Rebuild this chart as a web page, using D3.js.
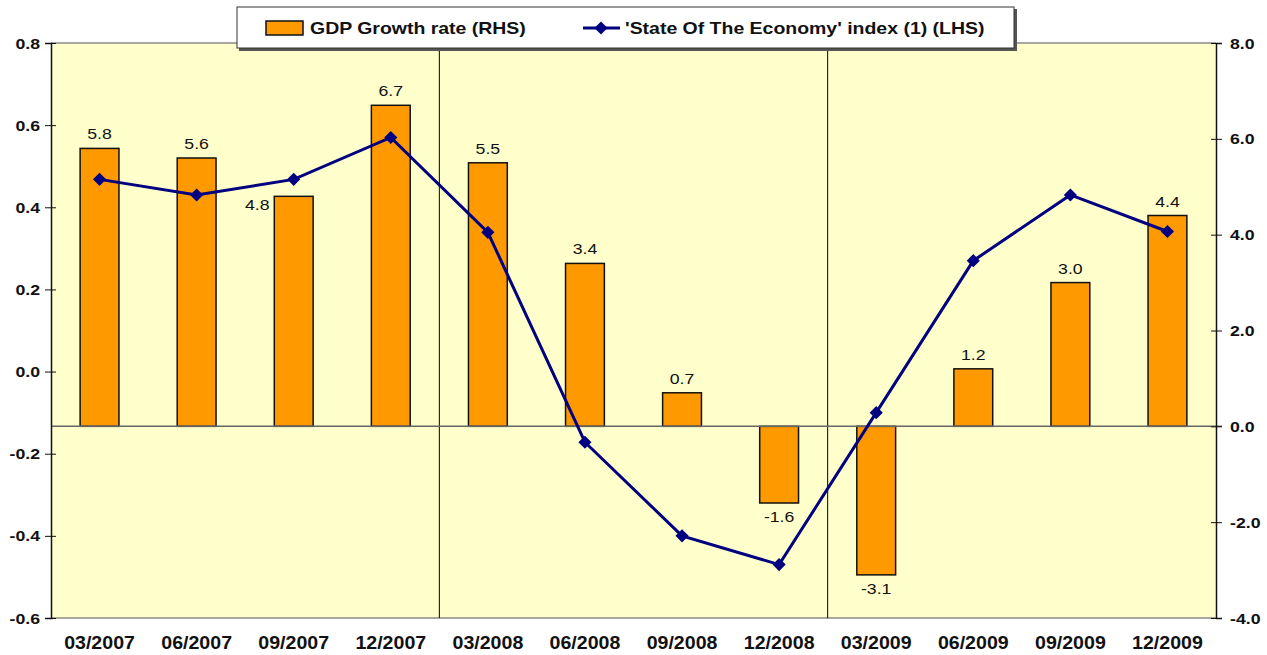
<!DOCTYPE html>
<html>
<head>
<meta charset="utf-8">
<script src="https://cdn.jsdelivr.net/npm/d3@7"></script>
<style>
  body { margin: 0; background: #fff; }
  text { font-family: "Liberation Sans", Arial, sans-serif; fill: #111; }
</style>
</head>
<body>
<svg id="chart"></svg>
<script>
// chart data
const quarters = ['03/2007', '06/2007', '09/2007', '12/2007', '03/2008', '06/2008',
                  '09/2008', '12/2008', '03/2009', '06/2009', '09/2009', '12/2009'];
const gdpGrowth = [5.8, 5.6, 4.8, 6.7, 5.5, 3.4, 0.7, -1.6, -3.1, 1.2, 3.0, 4.4];
const economyIndex = [0.468, 0.430, 0.468, 0.570, 0.339, -0.172, -0.400, -0.470, -0.100, 0.270, 0.430, 0.341];
const leftTicks = [0.8, 0.6, 0.4, 0.2, 0.0, -0.2, -0.4, -0.6];
const rightTicks = [8.0, 6.0, 4.0, 2.0, 0.0, -2.0, -4.0];
const yearBreaks = ['03/2008', '03/2009'];
const legendLabels = ['GDP Growth rate (RHS)', "'State Of The Economy' index (1) (LHS)"];

const width = 1267;
const height = 655;
const plot = { left: 51, right: 1216, top: 43, bottom: 618 };
const stretch = 1.18; // the source text looks horizontally stretched

// plain hyphen for negatives, like the original
const fmt1 = d => d.toFixed(1);

const svg = d3.select('#chart')
    .attr('width', width)
    .attr('height', height);

// Scales
const x = d3.scaleBand()
    .domain(quarters)
    .range([plot.left, plot.right])
    .paddingInner(0.6)
    .paddingOuter(0.3);

const yLeft = d3.scaleLinear().domain([-0.6, 0.8]).range([plot.bottom, plot.top]);
const yRight = d3.scaleLinear().domain([-4, 8]).range([plot.bottom, plot.top]);

// Plot background
svg.append('rect')
    .attr('x', plot.left).attr('y', plot.top)
    .attr('width', plot.right - plot.left).attr('height', plot.bottom - plot.top)
    .attr('fill', '#FFFFCC');

// top and bottom borders
[plot.top, plot.bottom].forEach(yy => {
    svg.append('line')
        .attr('x1', plot.left).attr('x2', plot.right)
        .attr('y1', yy).attr('y2', yy)
        .attr('stroke', '#8a8a8a').attr('stroke-width', 1.5);
});

// year separators
const step = x.step();
yearBreaks.forEach(q => {
    const xx = x(q) - (step - x.bandwidth()) / 2;
    svg.append('line')
        .attr('x1', xx).attr('x2', xx)
        .attr('y1', plot.top).attr('y2', plot.bottom)
        .attr('stroke', '#000').attr('stroke-width', 1);
});

// Draw bars
svg.selectAll('.bar')
    .data(gdpGrowth)
    .join('rect')
    .attr('class', 'bar')
    .attr('x', (d, i) => x(quarters[i]))
    .attr('width', x.bandwidth())
    .attr('y', d => yRight(Math.max(0, d)))
    .attr('height', d => Math.abs(yRight(d) - yRight(0)))
    .attr('fill', '#FF9900')
    .attr('stroke', '#111')
    .attr('stroke-width', 1.5);

// zero line of the right axis
svg.append('line')
    .attr('x1', plot.left).attr('x2', plot.right + 6)
    .attr('y1', yRight(0)).attr('y2', yRight(0))
    .attr('stroke', '#666').attr('stroke-width', 1.5);

// Bar labels
svg.selectAll('.bar-label')
    .data(gdpGrowth)
    .join('text')
    .attr('class', 'bar-label')
    .attr('font-size', 15)
    .attr('text-anchor', 'middle')
    .text(fmt1)
    .each(function(d, i) {
        let cx = x(quarters[i]) + x.bandwidth() / 2;
        let cy = d >= 0 ? yRight(d) - 9 : yRight(d) + 19;
        if (quarters[i] === '09/2007') { // label was pushed off the marker
            cx = x(quarters[i]) - 17;
            cy = yRight(d) + 14;
        }
        d3.select(this).attr('transform', `translate(${cx},${cy}) scale(${stretch},1)`);
    });

// Line series
const line = d3.line()
    .x((d, i) => x(quarters[i]) + x.bandwidth() / 2)
    .y(d => yLeft(d));

svg.append('path')
    .datum(economyIndex)
    .attr('d', line)
    .attr('fill', 'none')
    .attr('stroke', '#000080')
    .attr('stroke-width', 3);

const diamond = d3.symbol().type(d3.symbolDiamond2).size(110);
svg.selectAll('.marker')
    .data(economyIndex)
    .join('path')
    .attr('class', 'marker')
    .attr('d', diamond)
    .attr('transform', (d, i) => `translate(${x(quarters[i]) + x.bandwidth() / 2},${yLeft(d)})`)
    .attr('fill', '#000080');

// Axes
const leftAxis = svg.append('g')
    .attr('transform', `translate(${plot.left},0)`)
    .call(d3.axisLeft(yLeft).tickValues(leftTicks).tickSize(6).tickFormat(fmt1));
leftAxis.select('.domain').attr('stroke', '#111').attr('stroke-width', 1.5);
leftAxis.selectAll('.tick line').attr('x1', 5).attr('x2', -6).attr('stroke', '#111');
leftAxis.selectAll('.tick text')
    .attr('x', null).attr('dy', null)
    .attr('font-size', 15).attr('font-weight', 'bold')
    .attr('font-family', '"Liberation Sans", Arial, sans-serif')
    .attr('text-anchor', 'end').attr('fill', '#111')
    .attr('transform', `translate(-11,5) scale(${stretch},1)`);

const rightAxis = svg.append('g')
    .attr('transform', `translate(${plot.right},0)`)
    .call(d3.axisRight(yRight).tickValues(rightTicks).tickSize(6).tickFormat(fmt1));
rightAxis.select('.domain').attr('stroke', '#111').attr('stroke-width', 1.5);
rightAxis.selectAll('.tick line').attr('x1', -5).attr('x2', 6).attr('stroke', '#111');
rightAxis.selectAll('.tick text')
    .attr('x', null).attr('dy', null)
    .attr('font-size', 15).attr('font-weight', 'bold')
    .attr('font-family', '"Liberation Sans", Arial, sans-serif')
    .attr('text-anchor', 'start').attr('fill', '#111')
    .attr('transform', `translate(14,5) scale(${stretch},1)`);

// category labels
svg.selectAll('.cat-label')
    .data(quarters)
    .join('text')
    .attr('class', 'cat-label')
    .attr('font-size', 17.5)
    .attr('font-weight', 'bold')
    .attr('text-anchor', 'middle')
    .text(d => d)
    .attr('transform', d => `translate(${x(d) + x.bandwidth() / 2},${plot.bottom + 31}) scale(1.12,1)`);

// Legend
const legend = svg.append('g');
legend.append('rect')
    .attr('x', 239).attr('y', 9).attr('width', 778).attr('height', 42)
    .attr('fill', '#555');
legend.append('rect')
    .attr('x', 237).attr('y', 7).attr('width', 777).attr('height', 41)
    .attr('fill', '#fff').attr('stroke', '#333').attr('stroke-width', 1);

legend.append('rect')
    .attr('x', 266).attr('y', 21).attr('width', 37).attr('height', 14)
    .attr('fill', '#FF9900').attr('stroke', '#111').attr('stroke-width', 1.5);
legend.append('text')
    .attr('font-size', 16.5).attr('font-weight', 'bold')
    .text(legendLabels[0])
    .attr('transform', `translate(310,34) scale(${stretch},1)`);

legend.append('line')
    .attr('x1', 583).attr('x2', 620).attr('y1', 28).attr('y2', 28)
    .attr('stroke', '#000080').attr('stroke-width', 3);
legend.append('path')
    .attr('d', diamond)
    .attr('transform', 'translate(601,28)')
    .attr('fill', '#000080');
legend.append('text')
    .attr('font-size', 16.5).attr('font-weight', 'bold')
    .text(legendLabels[1])
    .attr('transform', `translate(625,34) scale(${stretch},1)`);
</script>
</body>
</html>
